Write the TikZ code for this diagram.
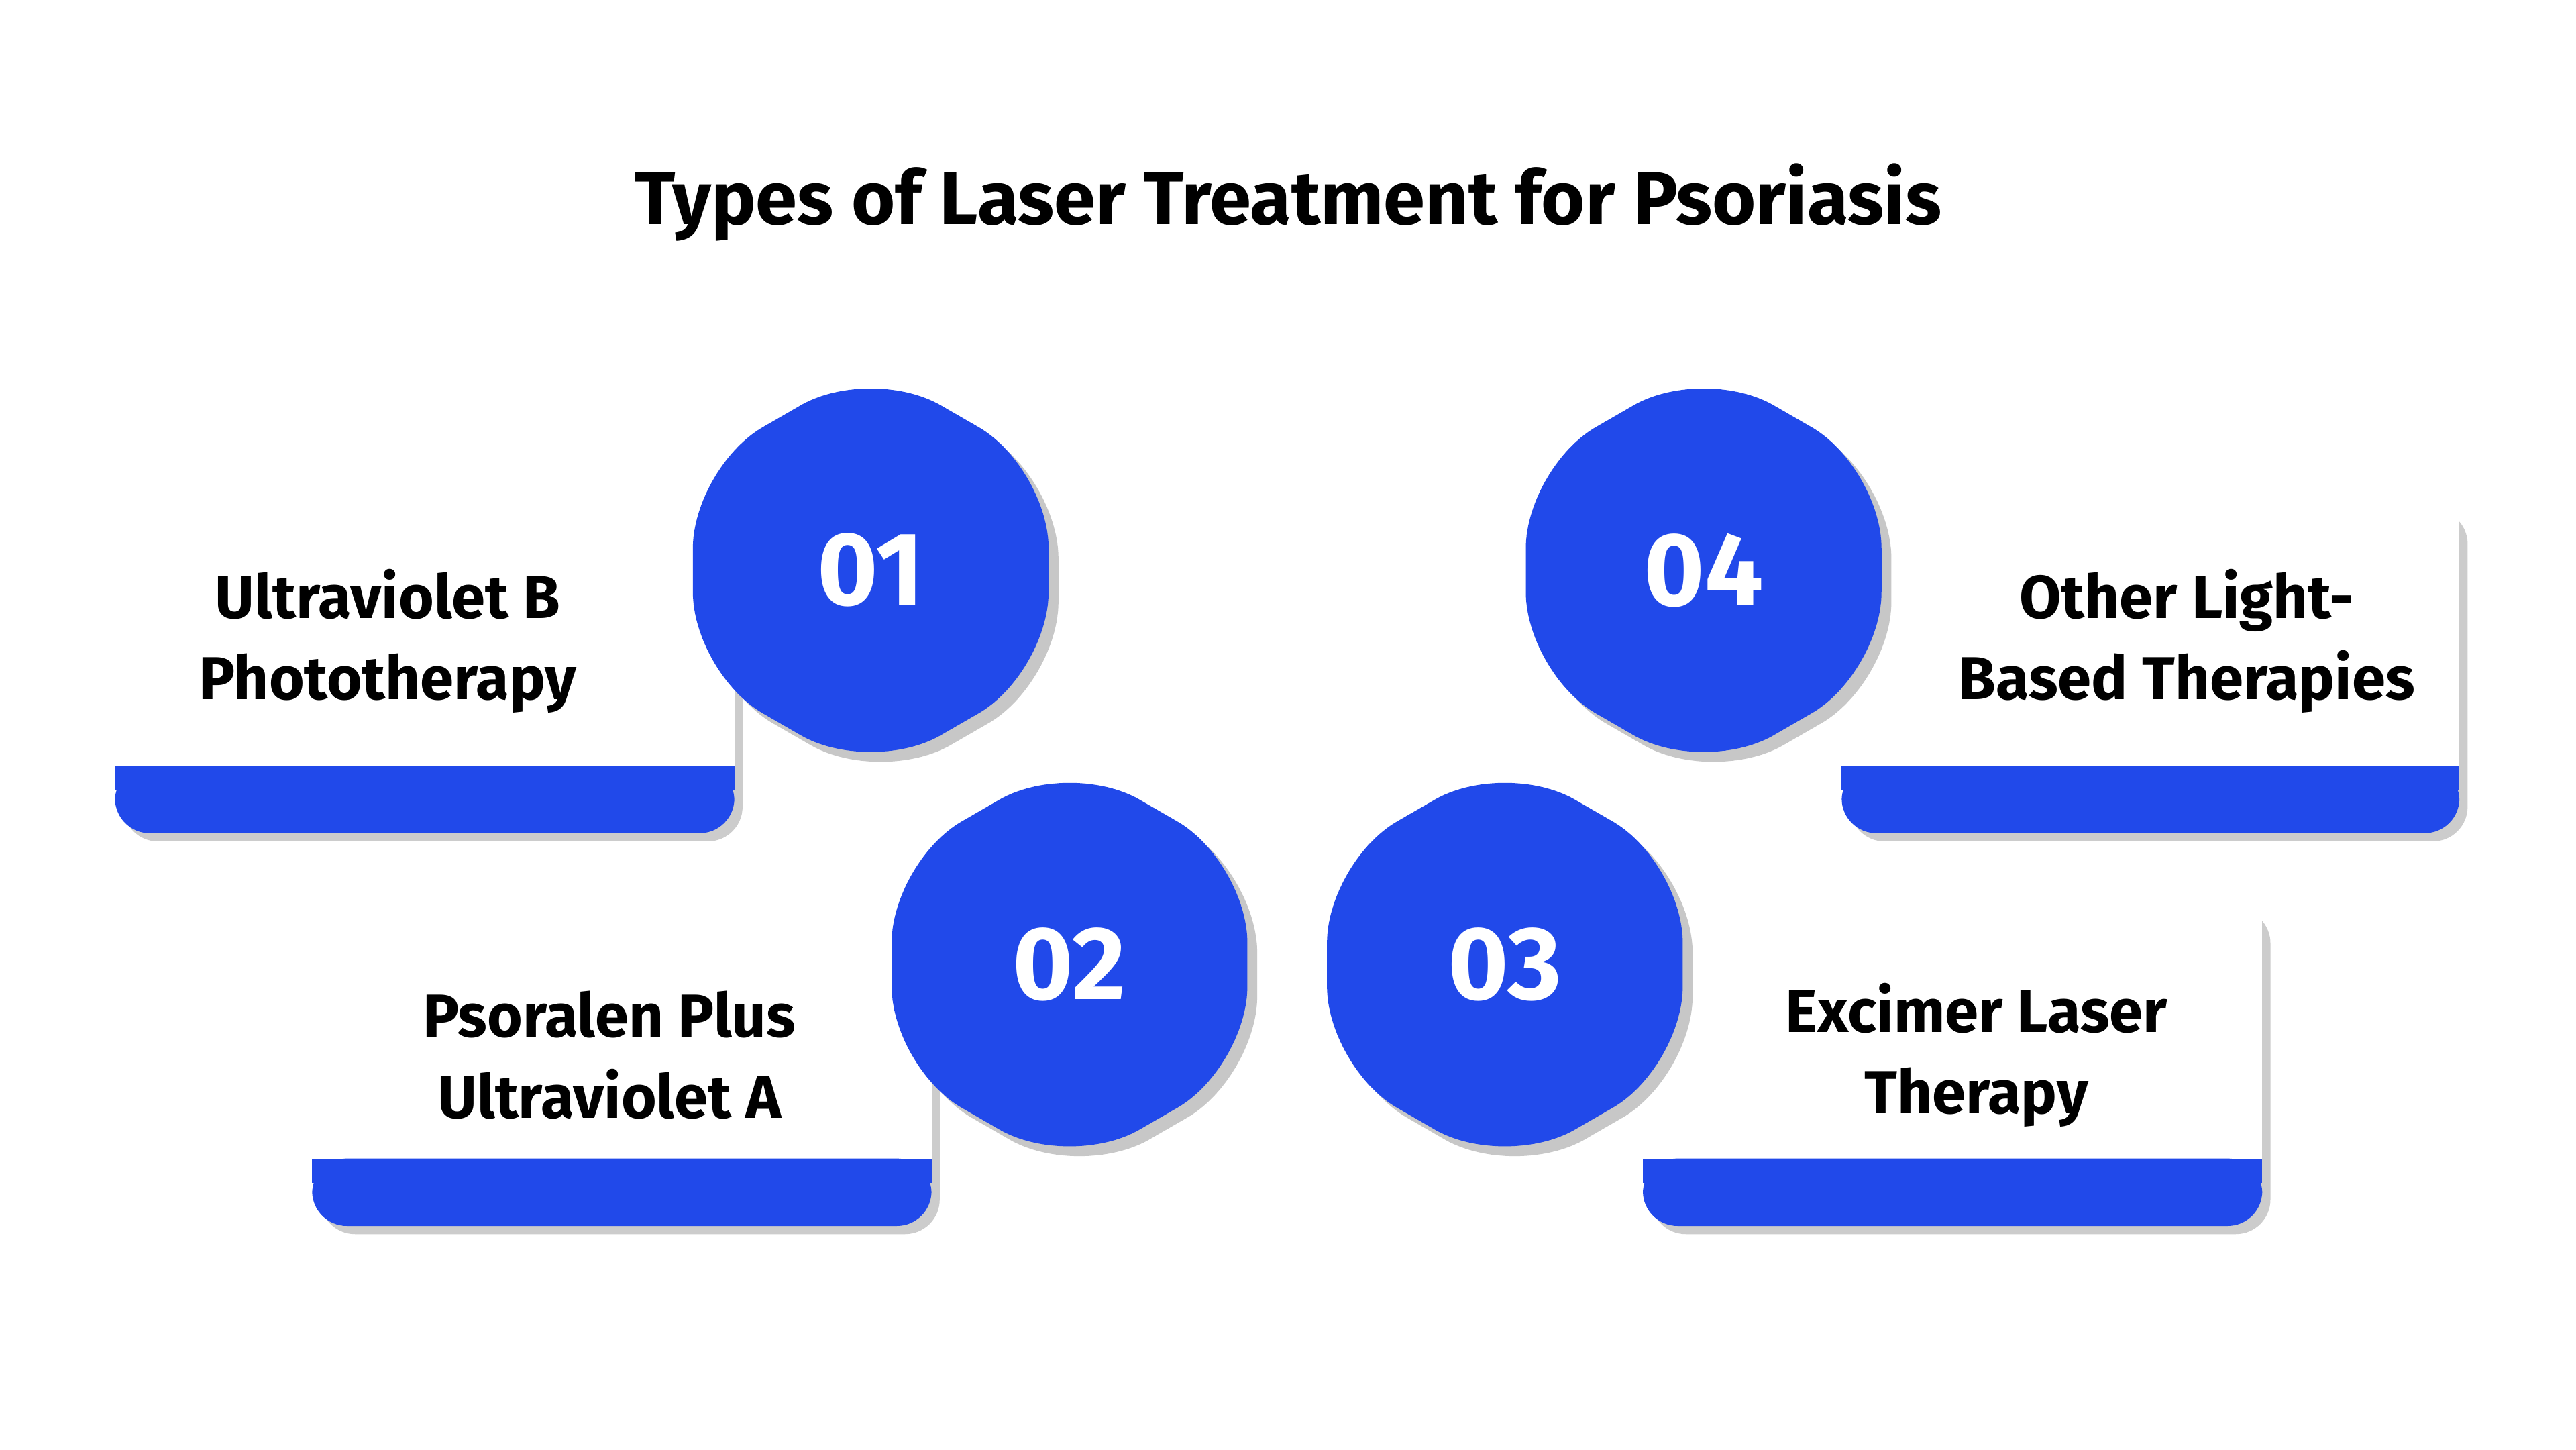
\documentclass[tikz,border=0pt]{standalone}
\usepackage{fontspec}
\setmainfont{Fira Sans}
\definecolor{hexblue}{HTML}{2149EA}
\tikzset{
  hexshadow/.style={fill=black!22, rounded corners=14pt},
  hexfill/.style={fill=hexblue, rounded corners=14pt},
  cardtext/.style={font=\fontsize{10.5}{14}\selectfont\bfseries, align=center},
  numtext/.style={font=\fontsize{18}{20}\selectfont\bfseries, text=white}
}
\begin{document}
\begin{tikzpicture}[x=1cm,y=-1cm]
  \useasboundingbox[fill=white] (0,0) rectangle (15.68,8.82);

  \node[font=\fontsize{13}{15}\selectfont\bfseries] (title) at (7.84,1.23) {Types of Laser Treatment for Psoriasis};

  % cards: left x, right x, top y, bar top y
  \foreach \l/\r/\t/\b [count=\i] in {0.70/4.47/3.05/4.66, 1.90/5.67/5.45/7.05, 10.00/13.77/5.48/7.05, 11.21/14.97/3.05/4.66} {
    \fill[black!20, rounded corners=6pt] (\l+0.05,\t+0.05) rectangle (\r+0.05,\b+0.46);
    \fill[white] (\l,\t) rectangle (\r,\b);
    \fill[hexblue, rounded corners=6pt] (\l,\b) rectangle (\r,\b+0.41);
    \fill[hexblue] (\l,\b) rectangle (\r,\b+0.15);
  }

  \node[cardtext] (t1) at (2.36,3.90) {Ultraviolet B\\Phototherapy};
  \node[cardtext] (t2) at (3.71,6.42) {Psoralen Plus\\Ultraviolet A};
  \node[cardtext] (t3) at (12.03,6.42) {Excimer Laser\\Therapy};
  \node[cardtext] (t4) at (13.31,3.90) {Other Light-\\Based Therapies};

  % hexagons
  \foreach \x/\y/\n in {5.30/3.47/01, 6.51/5.87/02, 9.16/5.87/03, 10.37/3.47/04} {
    \fill[hexshadow] (\x+0.06,\y+0.06) +(90:1.25) -- +(150:1.25) -- +(210:1.25) -- +(270:1.25) -- +(330:1.25) -- +(30:1.25) -- cycle;
    \fill[hexfill] (\x,\y) +(90:1.25) -- +(150:1.25) -- +(210:1.25) -- +(270:1.25) -- +(330:1.25) -- +(30:1.25) -- cycle;
    \node[numtext] (h\n) at (\x,\y) {\n};
  }
\end{tikzpicture}
\end{document}
